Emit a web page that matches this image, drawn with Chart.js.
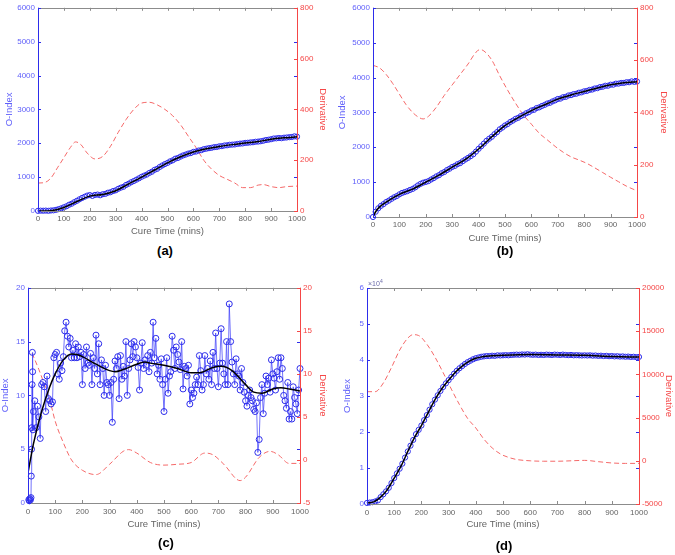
<!DOCTYPE html>
<html>
<head>
<meta charset="utf-8">
<script src="https://cdn.jsdelivr.net/npm/chart.js@4.4.1/dist/chart.umd.min.js"></script>
<style>
  body { margin: 0; background: #fff; }
  #wrap { position: relative; width: 675px; height: 555px; overflow: hidden; }
  canvas { position: absolute; }
  .panel_label { position: absolute; font: bold 13px "Liberation Sans", Arial, sans-serif; color: #000; transform: translate(-50%, -50%); }
  .exponent { position: absolute; font: 7px "Liberation Sans", Arial, sans-serif; color: #6a6aa8; }
  .exponent sup { font-size: 5px; }
</style>
</head>
<body>
<div id="wrap">
  <canvas id="chart_a"></canvas>
  <canvas id="chart_b"></canvas>
  <canvas id="chart_c"></canvas>
  <canvas id="chart_d"></canvas>
  <div class="panel_label" style="left:165px; top:250px;">(a)</div>
  <div class="panel_label" style="left:505px; top:250px;">(b)</div>
  <div class="panel_label" style="left:166px; top:542px;">(c)</div>
  <div class="panel_label" style="left:504px; top:545px;">(d)</div>
  <div class="exponent" style="left:368px; top:278px;">&times;10<sup>4</sup></div>
</div>
<script>
// time axis (minutes) for the dense O-Index measurements, every 10 min
var cure_time = [];
for (var i = 0; i <= 1000; i += 10) {
    cure_time.push(i);
}

// ---- panel (a) ----
var a_index = [
    5, 10, 8, 12, 6, 15, 20, 35, 55, 80,
    110, 140, 185, 215, 260, 300, 345, 385, 420, 455,
    470, 445, 475, 485, 465, 495, 505, 540, 555, 590,
    610, 655, 690, 715, 770, 805, 850, 885, 925, 965,
    1010, 1045, 1075, 1125, 1160, 1215, 1245, 1300, 1345, 1385,
    1420, 1465, 1495, 1545, 1565, 1605, 1640, 1665, 1695, 1710,
    1745, 1755, 1785, 1795, 1825, 1840, 1855, 1865, 1885, 1890,
    1910, 1915, 1935, 1940, 1955, 1960, 1965, 1980, 1990, 1995,
    2010, 2015, 2025, 2030, 2045, 2050, 2060, 2075, 2095, 2105,
    2120, 2140, 2145, 2155, 2150, 2165, 2170, 2180, 2185, 2205, 2195
];
var a_fit_time = [0, 50, 100, 150, 200, 250, 300, 350, 400, 450, 500, 550, 600, 650, 700, 750, 800, 850, 900, 950, 1000];
var a_fit = [0, 10, 105, 280, 440, 490, 600, 800, 1000, 1210, 1420, 1600, 1740, 1840, 1905, 1960, 2010, 2050, 2120, 2160, 2190];
var a_deriv_time = [0, 25, 50, 75, 100, 125, 145, 165, 190, 220, 250, 280, 310, 340, 370, 400, 430, 460, 490, 520, 550, 580, 610, 640, 670, 700, 730, 760, 790, 820, 850, 870, 900, 930, 960, 1000];
var a_deriv = [110, 112, 130, 170, 210, 250, 272, 262, 228, 205, 215, 255, 310, 360, 400, 425, 428, 418, 400, 375, 340, 295, 250, 200, 165, 140, 125, 110, 92, 92, 102, 104, 96, 92, 96, 98];

// ---- panel (b) ----
var b_index = [
    0, 150, 250, 320, 370, 430, 470, 520, 565, 600,
    650, 690, 715, 740, 775, 805, 850, 905, 950, 985,
    1005, 1030, 1075, 1115, 1165, 1200, 1255, 1290, 1345, 1385,
    1435, 1465, 1515, 1545, 1600, 1650, 1695, 1745, 1800, 1875,
    1955, 2030, 2105, 2185, 2245, 2300, 2375, 2435, 2515, 2565,
    2625, 2665, 2725, 2765, 2815, 2845, 2895, 2925, 2975, 3005,
    3055, 3075, 3125, 3145, 3185, 3215, 3255, 3275, 3315, 3345,
    3385, 3395, 3435, 3445, 3485, 3495, 3525, 3535, 3565, 3575,
    3605, 3615, 3645, 3655, 3685, 3695, 3725, 3735, 3765, 3765,
    3795, 3795, 3825, 3825, 3845, 3845, 3865, 3865, 3890, 3875, 3885
];
var b_fit_time = [0, 10, 25, 50, 100, 150, 200, 250, 300, 350, 400, 450, 500, 550, 600, 650, 700, 750, 800, 850, 900, 950, 1000];
var b_fit = [0, 150, 290, 430, 650, 800, 1000, 1200, 1430, 1650, 1950, 2300, 2620, 2850, 3050, 3220, 3380, 3500, 3600, 3700, 3790, 3850, 3880];
var b_deriv_time = [0, 25, 50, 75, 100, 125, 150, 175, 190, 210, 240, 270, 300, 330, 360, 390, 405, 420, 450, 480, 510, 540, 570, 600, 630, 660, 690, 720, 750, 780, 810, 840, 870, 900, 930, 960, 1000];
var b_deriv = [580, 570, 545, 510, 470, 430, 400, 380, 375, 385, 420, 465, 505, 545, 585, 630, 640, 635, 600, 540, 485, 435, 390, 355, 320, 295, 270, 248, 230, 218, 205, 188, 170, 152, 135, 118, 100];

// ---- panel (c) ----
var c_early_time = [3, 5, 7, 9, 11, 12, 13, 14, 15, 16, 17, 18];
var c_early_index = [0.3, 0.2, 0.4, 0.3, 0.5, 2.5, 5, 7, 11, 14, 12.2, 6.8];
// every 5 min from 20 to 1000
var c_index = [
    8.5, 9.5, 7, 9, 8, 6, 11, 11.2, 10.8, 8.5,
    11.8, 9.7, 9.5, 9.2, 9.4, 13.5, 13.8, 14, 12, 11.5,
    13, 12.3, 13.6, 16, 16.8, 15.5, 14.5, 15.3, 13.5, 14.2,
    13.5, 14.8, 13.5, 14.5, 13.6, 14, 11, 13.8, 12.5, 14.5,
    13, 12.8, 13.9, 11, 13.5, 12.5, 15.6, 12, 14.8, 11,
    13.3, 12.5, 10, 12.8, 11.2, 11, 10, 11.2, 7.5, 11.5,
    13.2, 12.5, 13.6, 9.7, 13.7, 11.5, 12.7, 11.8, 15, 10,
    12.5, 13.3, 14.8, 13.6, 15, 14.5, 13.5, 12.6, 10.5, 13,
    14.9, 12.5, 13.3, 12.8, 13.7, 12.2, 14, 13, 16.8, 13.5,
    15.3, 12, 12.8, 11.5, 13.4, 11, 8.5, 11.5, 13.5, 10.2,
    11.8, 12.2, 15.5, 14.2, 12.5, 14.5, 13.8, 13.1, 12.4, 15,
    10.6, 12.7, 12.5, 11.8, 12.8, 9.2, 10.5, 9.8, 10.2, 11,
    11.7, 11, 13.7, 12.3, 10.5, 11, 13.7, 12, 12.5, 11.5,
    13.2, 11, 14, 12.5, 15.8, 12.5, 10.8, 13, 16.2, 13,
    12, 11, 15, 11, 18.5, 15, 13.1, 12, 11, 13.4,
    12, 11.8, 10.5, 12.5, 11.2, 10.3, 9.5, 9, 10, 10.5,
    9.8, 9.5, 8.7, 8.5, 9.3, 4.7, 5.9, 9.8, 11, 8.3,
    10.2, 11.8, 11, 11.6, 10.3, 13.3, 12, 11.6, 10.5, 12.2,
    13.5, 11.5, 13.5, 12.5, 10, 9.5, 8.8, 11.2, 7.8, 8.5,
    7.8, 10.8, 9.8, 9.2, 8.3, 10.5, 12.5
];
var c_time = [];
for (var i = 20; i <= 1000; i += 5) {
    c_time.push(i);
}
var c_fit_time = [0, 20, 50, 80, 100, 130, 160, 180, 200, 250, 300, 320, 350, 400, 430, 450, 500, 550, 600, 630, 680, 710, 750, 800, 830, 860, 900, 930, 960, 1000];
var c_fit = [2.8, 5.5, 8.5, 10.8, 12, 13.3, 13.85, 13.8, 13.6, 12.9, 12.3, 12.2, 12.4, 12.9, 13.1, 13.0, 12.8, 12.5, 12.1, 12.1, 12.6, 12.7, 12.3, 11.0, 10.3, 10.2, 10.6, 10.7, 10.6, 10.4];
var c_deriv_time = [15, 40, 60, 80, 100, 130, 160, 200, 250, 300, 350, 370, 400, 450, 500, 550, 600, 650, 680, 720, 780, 800, 850, 890, 920, 960, 1000];
var c_deriv = [12.4, 10.5, 8.8, 7, 4.5, 2, 0, -1.2, -1.7, -0.5, 1.0, 1.2, 0.8, -0.3, -0.6, -0.5, -0.3, 0.8, 0.6, -0.5, -2.4, -2.0, 0.3, 1.0, 0.6, -0.4, -0.4];

// ---- panel (d) ----
var d_index = [
    300, 400, 500, 700, 1000, 1900, 2700, 3500, 4500, 5800,
    7200, 8500, 9800, 11200, 12900, 14600, 16200, 17800, 19400, 20600,
    21800, 23300, 24700, 26200, 27700, 29000, 30200, 31400, 32500, 33500,
    34400, 35300, 36200, 37000, 37700, 38300, 38900, 39400, 39800, 40200,
    40500, 40700, 40900, 41000, 41100, 41100, 41200, 41150, 41300, 41250,
    41300, 41350, 41300, 41400, 41450, 41500, 41450, 41550, 41500, 41600,
    41500, 41450, 41500, 41400, 41450, 41400, 41500, 41450, 41400, 41500,
    41450, 41400, 41500, 41400, 41350, 41400, 41300, 41350, 41300, 41250,
    41300, 41250, 41300, 41200, 41250, 41150, 41200, 41100, 41150, 41050,
    41100, 41000, 41050, 40950, 41000, 40900, 40950, 40850, 40900, 40800, 40850
];
var d_fit_time = [0, 25, 50, 75, 100, 125, 150, 175, 200, 225, 250, 275, 300, 325, 350, 375, 400, 425, 450, 500, 600, 700, 800, 900, 1000];
var d_fit = [300, 600, 1900, 4000, 7200, 10500, 14600, 18500, 21800, 25400, 29000, 32000, 34400, 36600, 38300, 39600, 40500, 40900, 41100, 41300, 41500, 41400, 41300, 41000, 40800];
var d_deriv_time = [0, 30, 60, 90, 120, 150, 170, 190, 220, 250, 280, 310, 340, 370, 400, 430, 460, 490, 520, 550, 600, 650, 700, 750, 800, 850, 900, 950, 1000];
var d_deriv = [8000, 8000, 9000, 10800, 12800, 14200, 14600, 14500, 13500, 12000, 10200, 8300, 6500, 4900, 3800, 2500, 1500, 800, 400, 150, 0, -50, -50, 0, 50, -100, -250, -300, -300];

const BLUE = 'rgb(45,45,235)';
const BLUE_TEXT = 'rgb(95,95,250)';
const RED = 'rgb(245,105,105)';
const RED_TEXT = 'rgb(245,70,70)';
const GRAY = 'rgb(140,140,140)';
const GRAY_TEXT = 'rgb(100,100,100)';

Chart.defaults.font.family = '"Liberation Sans", Arial, sans-serif';

function to_points(xs, ys) {
    return xs.map(function(x, i) { return {x: x, y: ys[i]}; });
}

// MATLAB style box: axis lines all round, short ticks pointing inwards
const box_plugin = {
    id: 'matlab_box',
    afterDatasetsDraw(chart) {
        var ctx = chart.ctx, a = chart.chartArea;
        var sx = chart.scales.x, sy = chart.scales.y, sy1 = chart.scales.y1;
        var len = 3;
        ctx.save();
        ctx.lineWidth = 1;

        ctx.strokeStyle = GRAY;
        ctx.beginPath();
        ctx.moveTo(a.left, Math.round(a.top) + 0.5); ctx.lineTo(a.right, Math.round(a.top) + 0.5);
        ctx.moveTo(a.left, Math.round(a.bottom) + 0.5); ctx.lineTo(a.right, Math.round(a.bottom) + 0.5);
        sx.ticks.forEach(function(t) {
            var p = Math.round(sx.getPixelForValue(t.value)) + 0.5;
            ctx.moveTo(p, a.bottom); ctx.lineTo(p, a.bottom - len);
            ctx.moveTo(p, a.top); ctx.lineTo(p, a.top + len);
        });
        ctx.stroke();

        ctx.strokeStyle = BLUE;
        ctx.beginPath();
        ctx.moveTo(Math.round(a.left) + 0.5, a.top); ctx.lineTo(Math.round(a.left) + 0.5, a.bottom + 1);
        sy.ticks.forEach(function(t) {
            var p = Math.round(sy.getPixelForValue(t.value)) + 0.5;
            ctx.moveTo(a.left, p); ctx.lineTo(a.left + len, p);
            ctx.moveTo(a.right, p); ctx.lineTo(a.right - len, p);
        });
        ctx.stroke();

        ctx.strokeStyle = RED_TEXT;
        ctx.beginPath();
        ctx.moveTo(Math.round(a.right) + 0.5, a.top); ctx.lineTo(Math.round(a.right) + 0.5, a.bottom + 1);
        sy1.ticks.forEach(function(t) {
            var p = Math.round(sy1.getPixelForValue(t.value)) + 0.5;
            ctx.moveTo(a.right, p); ctx.lineTo(a.right - len, p);
        });
        ctx.stroke();
        ctx.restore();
    }
};

function make_panel(id, box, plot, p) {
    var canvas = document.getElementById(id);
    canvas.width = box.w;
    canvas.height = box.h;
    canvas.style.left = box.x + 'px';
    canvas.style.top = box.y + 'px';

    var left_w = plot.x1 - box.x;
    var right_w = box.x + box.w - plot.x2;
    var bottom_h = box.y + box.h - plot.y2;
    var top_pad = plot.y1 - box.y;

    var datasets = [
        {
            data: to_points(p.time, p.index),
            yAxisID: 'y',
            showLine: p.connect,
            borderColor: 'rgba(60,60,250,0.8)',
            borderWidth: 0.9,
            pointStyle: 'circle',
            pointRadius: p.radius,
            pointBorderWidth: 1,
            pointBorderColor: BLUE,
            pointBackgroundColor: 'rgba(0,0,0,0)',
            clip: 5,
            order: 1
        },
        {
            data: to_points(p.fit_time, p.fit),
            yAxisID: 'y',
            borderColor: '#000',
            borderWidth: 1.5,
            pointRadius: 0,
            cubicInterpolationMode: 'monotone',
            order: 0
        },
        {
            data: to_points(p.deriv_time, p.deriv),
            yAxisID: 'y1',
            borderColor: RED,
            borderWidth: 1,
            borderDash: [5, 3],
            pointRadius: 0,
            cubicInterpolationMode: 'monotone',
            order: 2
        }
    ];

    return new Chart(canvas, {
        type: 'line',
        data: { datasets: datasets },
        options: {
            responsive: false,
            animation: false,
            layout: { padding: { top: top_pad, left: 0, right: 0, bottom: 0 } },
            plugins: { legend: { display: false }, tooltip: { enabled: false } },
            scales: {
                x: {
                    type: 'linear', min: 0, max: 1000,
                    grid: { display: false, drawTicks: false }, border: { display: false },
                    ticks: { stepSize: 100, color: GRAY_TEXT, font: { size: 8 }, padding: p.xpad, maxRotation: 0,
                             callback: function(v) { return String(v); } },
                    title: { display: true, text: 'Cure Time (mins)', color: GRAY_TEXT, font: { size: 9.5 },
                             padding: { top: 0, bottom: p.xtitle } },
                    afterFit: function(s) { s.height = bottom_h; }
                },
                y: {
                    position: 'left', min: p.ymin, max: p.ymax,
                    grid: { display: false, drawTicks: false }, border: { display: false },
                    ticks: { stepSize: p.ystep, color: BLUE_TEXT, font: { size: 8 }, padding: 3,
                             callback: p.ylabel },
                    title: { display: true, text: 'O-Index', color: BLUE_TEXT, font: { size: 9.5 },
                             padding: { top: p.ltitle, bottom: 0 } },
                    afterFit: function(s) { s.width = left_w; }
                },
                y1: {
                    position: 'right', min: p.rmin, max: p.rmax,
                    grid: { display: false, drawTicks: false }, border: { display: false },
                    ticks: { stepSize: p.rstep, color: RED_TEXT, font: { size: 8 }, padding: 3,
                             callback: function(v) { return String(v); } },
                    title: { display: true, text: 'Derivative', color: RED_TEXT, font: { size: 9.5 },
                             padding: { top: p.rtitle, bottom: 0 } },
                    afterFit: function(s) { s.width = right_w; }
                }
            }
        },
        plugins: [box_plugin]
    });
}

function plain(v) { return String(v); }

window.onload = function() {
    make_panel('chart_a', {x: 0, y: 0, w: 335, h: 240}, {x1: 38, y1: 6, x2: 297, y2: 211}, {
        time: cure_time, index: a_index, fit_time: a_fit_time, fit: a_fit,
        deriv_time: a_deriv_time, deriv: a_deriv, connect: false, radius: 2.6,
        ymin: 0, ymax: 6000, ystep: 1000, ylabel: plain,
        rmin: 0, rmax: 800, rstep: 200,
        xpad: 3, xtitle: 3, ltitle: 4, rtitle: 7
    });
    make_panel('chart_b', {x: 337, y: 0, w: 338, h: 245}, {x1: 373, y1: 7, x2: 637, y2: 217}, {
        time: cure_time, index: b_index, fit_time: b_fit_time, fit: b_fit,
        deriv_time: b_deriv_time, deriv: b_deriv, connect: false, radius: 2.6,
        ymin: 0, ymax: 6000, ystep: 1000, ylabel: plain,
        rmin: 0, rmax: 800, rstep: 200,
        xpad: 3, xtitle: 1, ltitle: 0, rtitle: 6
    });
    make_panel('chart_c', {x: 0, y: 280, w: 335, h: 255}, {x1: 28, y1: 287, x2: 300, y2: 503}, {
        time: c_early_time.concat(c_time), index: c_early_index.concat(c_index),
        fit_time: c_fit_time, fit: c_fit,
        deriv_time: c_deriv_time, deriv: c_deriv, connect: true, radius: 3,
        ymin: 0, ymax: 20, ystep: 5, ylabel: plain,
        rmin: -5, rmax: 20, rstep: 5,
        xpad: 4, xtitle: 5, ltitle: 0, rtitle: 7
    });
    make_panel('chart_d', {x: 337, y: 280, w: 338, h: 255}, {x1: 367, y1: 288, x2: 639, y2: 504}, {
        time: cure_time, index: d_index, fit_time: d_fit_time, fit: d_fit,
        deriv_time: d_deriv_time, deriv: d_deriv, connect: false, radius: 2.6,
        ymin: 0, ymax: 60000, ystep: 10000, ylabel: function(v) { return String(v / 10000); },
        rmin: -5000, rmax: 20000, rstep: 5000,
        xpad: 4, xtitle: 5, ltitle: 5, rtitle: 1
    });
};
</script>
</body>
</html>
